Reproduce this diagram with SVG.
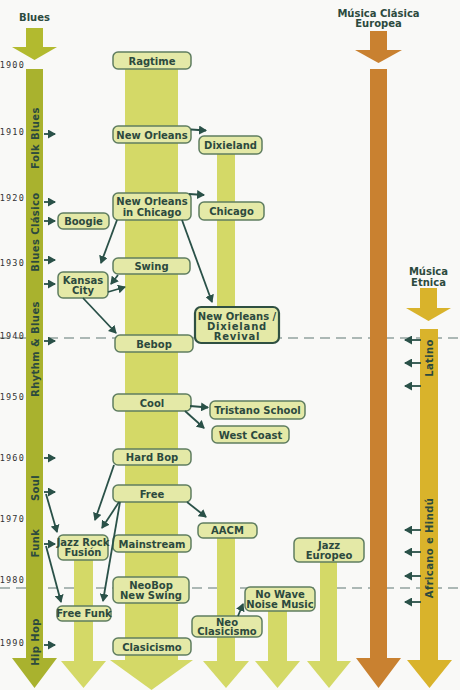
<svg xmlns="http://www.w3.org/2000/svg" width="460" height="690" viewBox="0 0 460 690">
<style>
.bg{fill:#f9f9f7}
.blues{fill:#a9b22e}
.jz{fill:#d4d967}
.cla{fill:#c98130}
.etn{fill:#d9b32b}
.box rect{fill:#e4e9a7;stroke:#5f7d60;stroke-width:1.5}
.box text,.lbl{font-family:"DejaVu Sans",Verdana,sans-serif;font-weight:bold;font-size:10px;fill:#2c4a3e;text-anchor:middle}
.yr{font-family:"DejaVu Sans Mono",monospace;font-size:8.5px;fill:#333;text-anchor:end;letter-spacing:1.2px}
.vl{font-family:"DejaVu Sans",Verdana,sans-serif;font-weight:bold;font-size:10px;fill:#2c4a3e;text-anchor:middle;letter-spacing:0.4px}
.dash{stroke:#93a3a0;stroke-width:1.5;stroke-dasharray:10 6;fill:none}
#connectors line,#connectors path{stroke:#2a5148;stroke-width:1.8;fill:none;marker-end:url(#ah)}
</style>
<defs>
<marker id="ah" markerUnits="userSpaceOnUse" markerWidth="9" markerHeight="9" refX="7" refY="4.5" orient="auto">
<path d="M0,0 L8,4.5 L0,9 z" fill="#2a5148"/>
</marker>
</defs>
<rect class="bg" x="0" y="0" width="460" height="690"/>
<g id="grid">
<line class="dash" x1="0" y1="338" x2="460" y2="338"/>
<line class="dash" x1="0" y1="588" x2="460" y2="588"/>
<text class="yr" x="25" y="68">1900</text>
<text class="yr" x="25" y="135">1910</text>
<text class="yr" x="25" y="201">1920</text>
<text class="yr" x="25" y="266">1930</text>
<text class="yr" x="25" y="339">1940</text>
<text class="yr" x="25" y="400">1950</text>
<text class="yr" x="25" y="461">1960</text>
<text class="yr" x="25" y="522">1970</text>
<text class="yr" x="25" y="583">1980</text>
<text class="yr" x="25" y="646">1990</text>
</g>
<g id="blues-stream">
<text class="lbl" x="34.5" y="21" font-size="9.5">Blues</text>
<rect x="26" y="28" width="17" height="20" fill="#b2ba2f"/>
<polygon points="12,47 57,47 34.5,60" fill="#b2ba2f"/>
<rect class="blues" x="26" y="69" width="17" height="590"/>
<polygon class="blues" points="12,658 57,658 34.5,688"/>
<text class="vl" transform="translate(38.5,138) rotate(-90)">Folk Blues</text>
<text class="vl" transform="translate(38.5,232) rotate(-90)">Blues Clásico</text>
<text class="vl" transform="translate(38.5,349) rotate(-90)">Rhythm &amp; Blues</text>
<text class="vl" transform="translate(38.5,488) rotate(-90)">Soul</text>
<text class="vl" transform="translate(38.5,543) rotate(-90)">Funk</text>
<text class="vl" transform="translate(38.5,642) rotate(-90)">Hip Hop</text>
</g>
<g id="clasica-stream">
<text class="lbl" x="378.5" y="17" font-size="9.5">Música Clásica</text>
<text class="lbl" x="378.5" y="27" font-size="9.5">Europea</text>
<rect class="cla" x="370" y="31" width="17" height="20"/>
<polygon class="cla" points="355,50 402,50 378.5,63"/>
<rect class="cla" x="370" y="69" width="17" height="590"/>
<polygon class="cla" points="356,658 401,658 378.5,688"/>
</g>
<g id="etnica-stream">
<text class="lbl" x="428.5" y="275" font-size="9.5">Música</text>
<text class="lbl" x="428.5" y="286" font-size="9.5">Etnica</text>
<rect class="etn" x="420" y="288" width="17" height="21"/>
<polygon class="etn" points="406,308 451,308 428.5,321"/>
<rect class="etn" x="420" y="329" width="18" height="332"/>
<polygon class="etn" points="407,660 452,660 429.5,688"/>
<text class="vl" transform="translate(432.5,358) rotate(-90)">Latino</text>
<text class="vl" transform="translate(432.5,548) rotate(-90)">Africano e Hindú</text>
</g>
<g id="jazz-columns">
<rect class="jz" x="125" y="60" width="53" height="601"/>
<polygon class="jz" points="110,660 193,660 151.5,690"/>
<rect class="jz" x="217" y="145" width="18" height="170"/>
<rect class="jz" x="217" y="530" width="18" height="132"/>
<polygon class="jz" points="203,661 249,661 226,688"/>
<rect class="jz" x="74" y="547" width="19" height="115"/>
<polygon class="jz" points="61,661 106,661 83.5,688"/>
<rect class="jz" x="268" y="600" width="19" height="62"/>
<polygon class="jz" points="255,661 300,661 277.5,688"/>
<rect class="jz" x="320" y="550" width="17" height="112"/>
<polygon class="jz" points="307,661 351,661 329,688"/>
</g>
<g id="ragtime" class="box"><rect x="113" y="52" width="78" height="17" rx="5"/><text x="152" y="64.5">Ragtime</text></g>
<g id="new-orleans" class="box"><rect x="113" y="126" width="78" height="17" rx="5"/><text x="152" y="138.5">New Orleans</text></g>
<g id="dixieland" class="box"><rect x="199" y="136" width="63" height="18" rx="5"/><text x="230.5" y="149">Dixieland</text></g>
<g id="new-orleans-chicago" class="box"><rect x="113" y="193" width="78" height="27" rx="5"/><text x="152" y="205">New Orleans</text><text x="152" y="215.5">in Chicago</text></g>
<g id="chicago" class="box"><rect x="199" y="202" width="65" height="18" rx="5"/><text x="231.5" y="215">Chicago</text></g>
<g id="boogie" class="box"><rect x="58" y="213" width="51" height="16" rx="5"/><text x="83.5" y="224.5">Boogie</text></g>
<g id="swing" class="box"><rect x="113" y="258" width="77" height="16" rx="5"/><text x="151.5" y="269.5">Swing</text></g>
<g id="kansas-city" class="box"><rect x="58" y="272" width="50" height="26" rx="5"/><text x="83" y="283.5">Kansas</text><text x="83" y="294">City</text></g>
<g id="revival" class="box"><rect x="195" y="307" width="84" height="36" rx="6" style="stroke:#2f5042;stroke-width:2.2"/><text x="237" y="319.5" font-size="9.6">New Orleans /</text><text x="237" y="330" letter-spacing="0.8">Dixieland</text><text x="237" y="340" letter-spacing="0.8">Revival</text></g>
<g id="bebop" class="box"><rect x="115" y="335" width="78" height="17" rx="5"/><text x="154" y="347.5">Bebop</text></g>
<g id="cool" class="box"><rect x="113" y="394" width="78" height="17" rx="5"/><text x="152" y="406.5">Cool</text></g>
<g id="tristano" class="box"><rect x="210" y="401" width="95" height="18" rx="5"/><text x="257.5" y="414" font-size="9.5">Tristano School</text></g>
<g id="west-coast" class="box"><rect x="212" y="426" width="77" height="17" rx="5"/><text x="250.5" y="438.5">West Coast</text></g>
<g id="hard-bop" class="box"><rect x="113" y="449" width="78" height="16" rx="5"/><text x="152" y="460.5">Hard Bop</text></g>
<g id="free" class="box"><rect x="113" y="485" width="78" height="17" rx="5"/><text x="152" y="497.5">Free</text></g>
<g id="aacm" class="box"><rect x="198" y="523" width="59" height="15" rx="5"/><text x="227.5" y="534">AACM</text></g>
<g id="jazz-rock" class="box"><rect x="58" y="535" width="50" height="25" rx="5"/><text x="83" y="545.5" font-size="8.8">Jazz Rock</text><text x="83" y="556">Fusión</text></g>
<g id="mainstream" class="box"><rect x="113" y="535" width="78" height="17" rx="5"/><text x="152" y="547.5">Mainstream</text></g>
<g id="jazz-europeo" class="box"><rect x="294" y="538" width="70" height="24" rx="5"/><text x="329" y="548.5">Jazz</text><text x="329" y="558.5">Europeo</text></g>
<g id="neobop" class="box"><rect x="113" y="577" width="76" height="26" rx="5"/><text x="151" y="588.5">NeoBop</text><text x="151" y="599">New Swing</text></g>
<g id="no-wave" class="box"><rect x="245" y="587" width="70" height="24" rx="5"/><text x="280" y="597.5">No Wave</text><text x="280" y="608">Noise Music</text></g>
<g id="free-funk" class="box"><rect x="57" y="606" width="54" height="15" rx="5"/><text x="84" y="617" font-size="8.6">Free Funk</text></g>
<g id="neo-clasicismo" class="box"><rect x="192" y="616" width="70" height="21" rx="5"/><text x="227" y="625.5">Neo</text><text x="227" y="635">Clasicismo</text></g>
<g id="clasicismo" class="box"><rect x="113" y="638" width="78" height="17" rx="5"/><text x="152" y="650.5">Clasicismo</text></g>
<g id="connectors">
<line x1="44" y1="134" x2="55" y2="134"/>
<line x1="44" y1="202" x2="55" y2="202"/>
<line x1="44" y1="221" x2="55" y2="221"/>
<line x1="44" y1="260" x2="55" y2="260"/>
<line x1="44" y1="284" x2="55" y2="284"/>
<line x1="44" y1="341" x2="55" y2="341"/>
<line x1="44" y1="458" x2="55" y2="458"/>
<line x1="44" y1="492" x2="55" y2="492"/>
<line x1="44" y1="544" x2="55" y2="544"/>
<line x1="44" y1="645" x2="55" y2="645"/>
<line x1="46" y1="494" x2="57" y2="532"/>
<line x1="46" y1="546" x2="61" y2="602"/>
<line x1="191" y1="129.5" x2="206" y2="130.5"/>
<line x1="189" y1="194" x2="204" y2="195"/>
<line x1="117" y1="220" x2="101" y2="263"/>
<line x1="118" y1="275" x2="111" y2="284"/>
<line x1="108" y1="292" x2="125" y2="287"/>
<line x1="83" y1="298" x2="116" y2="333"/>
<line x1="182" y1="220" x2="212" y2="302"/>
<line x1="190" y1="406" x2="208" y2="407.5"/>
<line x1="185" y1="411" x2="204" y2="428"/>
<line x1="114" y1="465" x2="95" y2="520"/>
<line x1="119" y1="502" x2="102" y2="528"/>
<line x1="120" y1="502" x2="103" y2="601"/>
<line x1="187" y1="502" x2="206" y2="517"/>
<line x1="238" y1="616" x2="243" y2="604"/>
<line x1="421" y1="340" x2="405" y2="340"/>
<line x1="421" y1="363" x2="405" y2="363"/>
<line x1="421" y1="386" x2="405" y2="386"/>
<line x1="421" y1="530" x2="405" y2="530"/>
<line x1="421" y1="552" x2="405" y2="552"/>
<line x1="421" y1="576" x2="405" y2="576"/>
<line x1="421" y1="602" x2="405" y2="602"/>
</g>
</svg>
